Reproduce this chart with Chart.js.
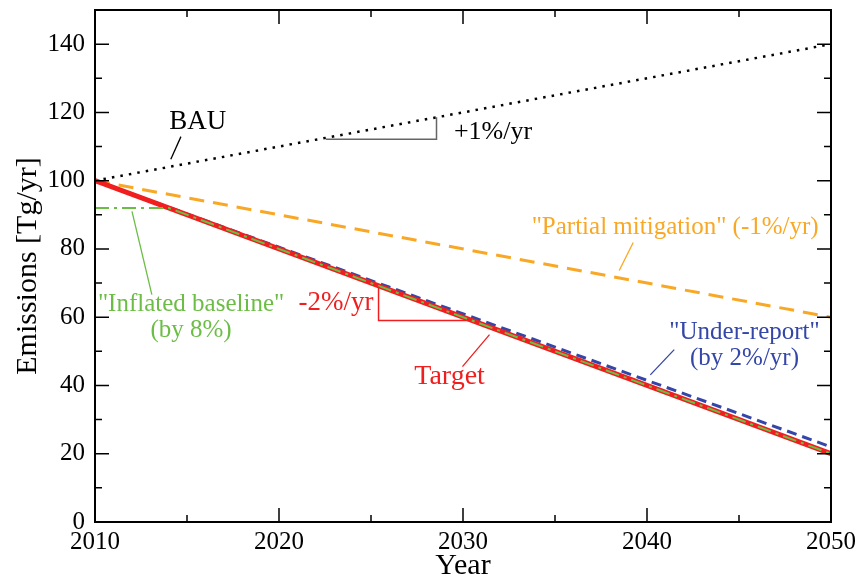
<!DOCTYPE html>
<html>
<head>
<meta charset="utf-8">
<script src="https://cdn.jsdelivr.net/npm/chart.js@4"></script>
<style>
  body { margin: 0; background: #fff; }
  #grafico { display: block; }
</style>
</head>
<body>
<canvas id="grafico" width="861" height="581"></canvas>
<script>
// dados
const anos = [2010, 2050];
const bau = [100, 140];
const parcial = [100, 60];
const meta = [100, 20];
const subnotif = [100, 22];
const anosInflado = [2010, 2014, 2050];
const inflado = [92, 92, 20];
const ticksX = [2010, 2020, 2030, 2040, 2050];
const ticksY = [0, 20, 40, 60, 80, 100, 120, 140];

const fonte = "'Liberation Serif', 'Times New Roman', serif";
const cores = {
    bau: '#000000',
    parcial: '#f9a825',
    meta: '#f01e1e',
    sub: '#3446a8',
    inflado: '#6cbd45',
    triangulo: '#666666'
};

let pontos = (xs, ys) => xs.map((x, i) => ({ x: x, y: ys[i] }));

// textos e linhas de chamada (em unidades dos eixos)
const notas = [
    { texto: ['BAU'], x: 2015.58, y: 117.3, cor: '#000', tam: 27 },
    { texto: ['+1%/yr'], x: 2031.63, y: 114.2, cor: '#000', tam: 26 },
    { texto: ['"Partial mitigation" (-1%/yr)'], x: 2041.53, y: 86.3, cor: cores.parcial, tam: 25 },
    { texto: ['"Inflated baseline"', '(by 8%)'], x: 2015.22, y: 63.7, cor: cores.inflado, tam: 25 },
    { texto: ['-2%/yr'], x: 2023.1, y: 64.3, cor: cores.meta, tam: 27 },
    { texto: ['Target'], x: 2029.27, y: 42.6, cor: cores.meta, tam: 28 },
    { texto: ['"Under-report"', '(by 2%/yr)'], x: 2045.3, y: 55.5, cor: cores.sub, tam: 25 }
];
const chamadas = [
    { de: [2014.67, 112.9], ate: [2014.12, 106.3], cor: '#000' },
    { de: [2039.25, 81.9], ate: [2038.49, 73.7], cor: cores.parcial },
    { de: [2012.01, 91.0], ate: [2013.09, 66.6], cor: cores.inflado },
    { de: [2031.44, 54.9], ate: [2029.97, 45.5], cor: cores.meta },
    { de: [2041.48, 50.5], ate: [2040.18, 43.1], cor: cores.sub }
];
const triangulos = [
    { pts: [[2022.54, 112.1], [2028.56, 112.1], [2028.56, 118.6]], cor: cores.triangulo },
    { pts: [[2025.41, 69.0], [2025.41, 59.0], [2030.19, 59.0]], cor: cores.meta }
];

const moldura = {
    id: 'moldura',
    afterDatasetsDraw(chart) {
        const c = chart.ctx;
        const a = chart.chartArea;
        const sx = chart.scales.x, sy = chart.scales.y;
        c.save();
        // triangulos de inclinacao
        triangulos.forEach(t => {
            c.strokeStyle = t.cor;
            c.lineWidth = 1.5;
            c.beginPath();
            t.pts.forEach((p, i) => {
                let px = sx.getPixelForValue(p[0]), py = sy.getPixelForValue(p[1]);
                if (i == 0) c.moveTo(px, py); else c.lineTo(px, py);
            });
            c.stroke();
        });
        chamadas.forEach(l => {
            c.strokeStyle = l.cor;
            c.lineWidth = 1.3;
            c.beginPath();
            c.moveTo(sx.getPixelForValue(l.de[0]), sy.getPixelForValue(l.de[1]));
            c.lineTo(sx.getPixelForValue(l.ate[0]), sy.getPixelForValue(l.ate[1]));
            c.stroke();
        });
        notas.forEach(n => {
            c.fillStyle = n.cor;
            c.font = `${n.tam}px ${fonte}`;
            c.textAlign = 'center';
            c.textBaseline = 'middle';
            let px = sx.getPixelForValue(n.x), py = sy.getPixelForValue(n.y);
            n.texto.forEach((t, i) => c.fillText(t, px, py + i * n.tam * 1.05));
        });
        // caixa e marcas para dentro
        c.strokeStyle = '#000';
        c.lineWidth = 2;
        c.strokeRect(a.left, a.top, a.right - a.left, a.bottom - a.top);
        c.lineWidth = 1.5;
        c.beginPath();
        sx.ticks.forEach(t => {
            let px = sx.getPixelForValue(t.value);
            let len = t.value % 10 == 0 ? 14 : 7;
            c.moveTo(px, a.bottom); c.lineTo(px, a.bottom - len);
            c.moveTo(px, a.top); c.lineTo(px, a.top + len);
        });
        sy.ticks.forEach(t => {
            let py = sy.getPixelForValue(t.value);
            let len = t.value % 20 == 0 ? 14 : 7;
            c.moveTo(a.left, py); c.lineTo(a.left + len, py);
            c.moveTo(a.right, py); c.lineTo(a.right - len, py);
        });
        c.stroke();
        c.restore();
    }
};

new Chart(document.getElementById('grafico').getContext('2d'), {
    type: 'line',
    data: {
        datasets: [
            {
                label: 'Inflated baseline',
                data: pontos(anosInflado, inflado),
                borderColor: cores.inflado,
                borderWidth: 2,
                borderDash: [14, 5, 3, 5],
                pointRadius: 0,
                order: 0
            },
            {
                label: 'Target',
                data: pontos(anos, meta),
                borderColor: cores.meta,
                borderWidth: 5,
                pointRadius: 0,
                order: 1
            },
            {
                label: 'Under-report',
                data: pontos(anos, subnotif),
                borderColor: cores.sub,
                borderWidth: 3,
                borderDash: [10, 6],
                pointRadius: 0,
                order: 2
            },
            {
                label: 'Partial mitigation',
                data: pontos(anos, parcial),
                borderColor: cores.parcial,
                borderWidth: 3,
                borderDash: [15, 9],
                pointRadius: 0,
                order: 3
            },
            {
                label: 'BAU',
                data: pontos(anos, bau),
                borderColor: cores.bau,
                borderWidth: 2.5,
                borderDash: [2.5, 6.1],
                pointRadius: 0,
                order: 4
            }
        ]
    },
    options: {
        responsive: false,
        animation: false,
        layout: { padding: { top: 10, right: 29, left: 0, bottom: 0 } },
        plugins: { legend: { display: false }, tooltip: { enabled: false } },
        scales: {
            x: {
                type: 'linear',
                min: 2010,
                max: 2050,
                afterFit: (s) => { s.height = 59; },
                grid: { display: false, drawTicks: false },
                border: { display: false },
                ticks: {
                    stepSize: 5,
                    autoSkip: false,
                    maxRotation: 0,
                    padding: 5,
                    color: '#000',
                    font: { family: fonte, size: 25 },
                    callback: (v) => ticksX.includes(v) ? String(v) : ''
                },
                title: {
                    display: true,
                    text: 'Year',
                    color: '#000',
                    font: { family: fonte, size: 30, lineHeight: 1.0 },
                    padding: { top: 0, bottom: 0 }
                }
            },
            y: {
                min: 0,
                max: 150,
                afterFit: (s) => { s.width = 95; s.paddingTop = 0; s.paddingBottom = 0; },
                grid: { display: false, drawTicks: false },
                border: { display: false },
                ticks: {
                    stepSize: 10,
                    autoSkip: false,
                    padding: 10,
                    color: '#000',
                    font: { family: fonte, size: 25 },
                    callback: (v) => ticksY.includes(v) ? String(v) : ''
                },
                title: {
                    display: true,
                    text: 'Emissions [Tg/yr]',
                    color: '#000',
                    font: { family: fonte, size: 30, lineHeight: 1.2 },
                    padding: { top: 10, bottom: 0 }
                }
            }
        }
    },
    plugins: [moldura]
});
</script>
</body>
</html>
